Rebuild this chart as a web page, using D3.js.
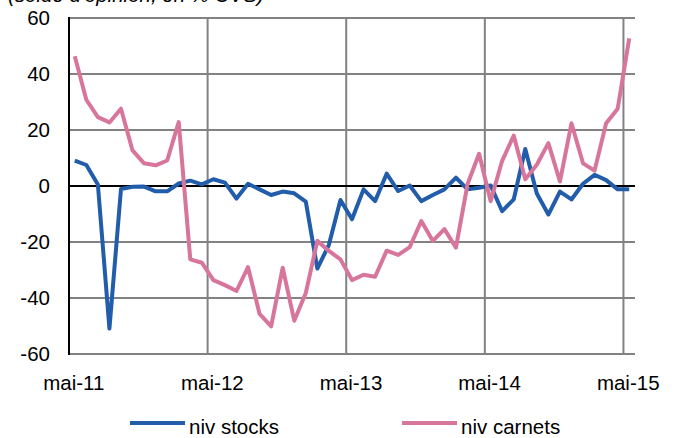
<!DOCTYPE html>
<html><head><meta charset="utf-8">
<script src="https://cdn.jsdelivr.net/npm/d3@7"></script>
<style>
html,body{margin:0;padding:0;background:#fff;}
svg{display:block;font-family:"Liberation Sans",Arial,sans-serif;}
</style></head>
<body>
<svg id="chart" width="677" height="438"></svg>
<script>
// Monthly data, May 2011 – May 2015
const stocks = [9.1, 7.5, 0.5, -50.9, -1.1, -0.3, -0.2, -1.9, -1.9, 0.9, 1.9, 0.6,
  2.4, 1.2, -4.5, 0.8, -1.2, -3.2, -2.0, -2.6, -5.6, -29.5, -21, -5,
  -11.9, -1.2, -5.4, 4.4, -1.8, 0.2, -5.4, -3.2, -1.2, 3.0, -1.2, -0.6,
  0.2, -9.0, -4.8, 13.2, -2.7, -10.2, -2.0, -4.8, 0.8, 4.0, 2.1, -1.2, -1.2];
const carnets = [46.3, 30.8, 24.6, 22.7, 27.6, 12.7, 8.1, 7.4, 9.1, 22.8, -26.2, -27.4,
  -33.6, -35.4, -37.5, -29, -45.7, -50.1, -29.2, -48.1, -38.2, -19.6, -23.2, -26.2,
  -33.6, -31.7, -32.4, -23.1, -24.6, -21.8, -12.5, -19.6, -15.4, -22.0, 0.6, 11.5,
  -5.4, 9.0, 18.0, 2.4, 7.6, 15.3, 1.6, 22.4, 8.1, 5.5, 22.4, 27.6, 52.7];
const xTickIdx = [0, 12, 24, 36, 48];
const xTickLabels = ["mai-11", "mai-12", "mai-13", "mai-14", "mai-15"];
const yTicks = [-60, -40, -20, 0, 20, 40, 60];
const seriesNames = ["niv stocks", "niv carnets"];
const seriesColors = ["#215DAA", "#D7759A"];
const subtitle = "(solde d'opinion, en % CVS)";

const svg = d3.select("#chart");
const L = 69, R = 635, T = 18, B = 354;
const x = d3.scaleLinear().domain([0, stocks.length]).range([L, R]);
const y = d3.scaleLinear().domain([-60, 60]).range([B, T]);
const FS = 20.5;

// subtitle (clipped at top as in reference)
svg.append("text").attr("x", 8).attr("y", 1.5).attr("font-size", FS)
  .attr("font-style", "italic").attr("fill", "#000").text(subtitle);

// horizontal gridlines
svg.append("g").selectAll("line").data(yTicks.filter(v => v !== 0 && v !== -60)).join("line")
  .attr("x1", L).attr("x2", R).attr("y1", d => y(d)).attr("y2", d => y(d))
  .attr("stroke", "#828282").attr("stroke-width", 2);
// vertical gridlines at year boundaries
svg.append("g").selectAll("line").data(xTickIdx.filter(i => i > 0)).join("line")
  .attr("x1", d => x(d)).attr("x2", d => x(d)).attr("y1", T).attr("y2", B)
  .attr("stroke", "#828282").attr("stroke-width", 2);
// bottom axis line
svg.append("line").attr("x1", L).attr("x2", R).attr("y1", y(-60)).attr("y2", y(-60))
  .attr("stroke", "#828282").attr("stroke-width", 2);
// zero line
svg.append("line").attr("x1", L).attr("x2", R).attr("y1", y(0)).attr("y2", y(0))
  .attr("stroke", "#000").attr("stroke-width", 2);
// left axis
svg.append("line").attr("x1", L).attr("x2", L).attr("y1", T - 1).attr("y2", B + 1)
  .attr("stroke", "#000").attr("stroke-width", 2);

// y tick labels
svg.append("g").selectAll("text").data(yTicks).join("text")
  .attr("x", 50).attr("y", d => y(d) + 7).attr("text-anchor", "end")
  .attr("font-size", FS).attr("fill", "#000").text(d => d);
// x tick labels
svg.append("g").selectAll("text").data(xTickIdx).join("text")
  .attr("x", d => x(d + 0.5) - 1).attr("y", 390).attr("text-anchor", "middle")
  .attr("font-size", FS).attr("fill", "#000").text((d, i) => xTickLabels[i]);

// lines
const line = d3.line().x((d, i) => x(i + 0.5)).y(d => y(d)).curve(d3.curveLinear);
[stocks, carnets].forEach((s, k) => {
  svg.append("path").datum(s).attr("d", line).attr("fill", "none")
    .attr("stroke", seriesColors[k]).attr("stroke-width", 4)
    .attr("stroke-linejoin", "round").attr("stroke-linecap", "butt");
});

// legend
const legX = [130, 402];
seriesNames.forEach((n, k) => {
  svg.append("line").attr("x1", legX[k]).attr("x2", legX[k] + 55).attr("y1", 423).attr("y2", 423)
    .attr("stroke", seriesColors[k]).attr("stroke-width", 4);
  svg.append("text").attr("x", legX[k] + 59).attr("y", 434).attr("font-size", FS)
    .attr("fill", "#000").text(n);
});
</script>
</body></html>
